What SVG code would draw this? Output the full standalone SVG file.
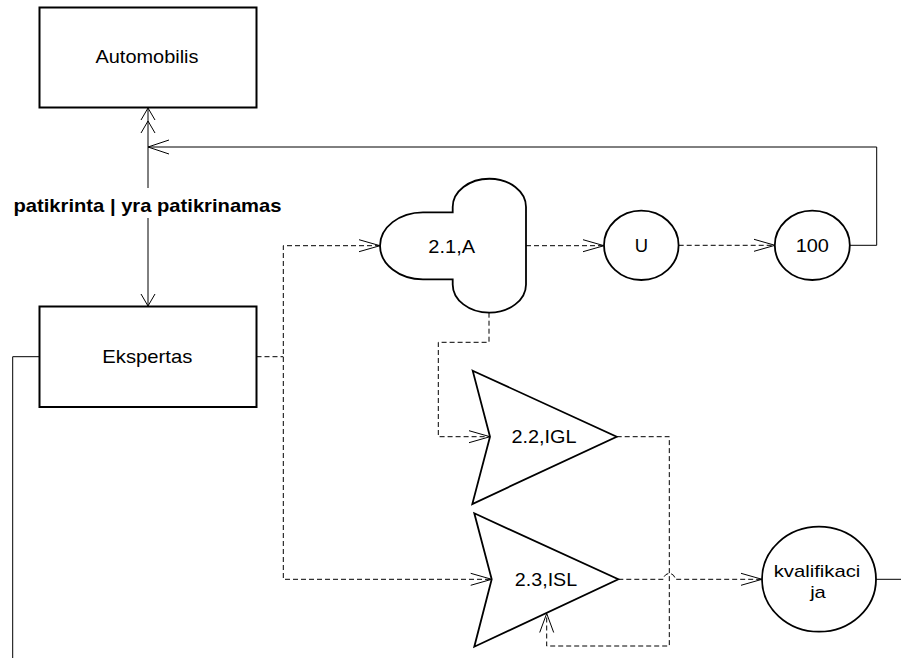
<svg xmlns="http://www.w3.org/2000/svg" width="901" height="658" viewBox="0 0 901 658">
  <style>
    .box { fill: #ffffff; stroke: #000000; stroke-width: 2; }
    .shape { fill: #ffffff; stroke: #000000; stroke-width: 1.8; }
    .line { fill: none; stroke: #000000; stroke-width: 1; }
    .dash { fill: none; stroke: #000000; stroke-width: 1; stroke-dasharray: 5 3; }
    .head { fill: none; stroke: #000000; stroke-width: 1; }
    .lbl { font-family: "Liberation Sans", Arial, sans-serif; font-size: 18.5px; fill: #000000; text-anchor: middle; }
    .bold { font-weight: bold; }
    .small { font-size: 17px; }
  </style>
  <rect width="901" height="658" fill="#ffffff"/>

  <!-- connectors -->
  <g id="connectors">
    <!-- Automobilis <-> Ekspertas -->
    <line class="line" x1="148" y1="108" x2="148" y2="188"/>
    <line class="line" x1="148" y1="218" x2="148" y2="306"/>
    <polyline class="head" points="141,120 148,108 155,120"/>
    <polyline class="head" points="141,133 148,121 155,133"/>
    <polyline class="head" points="141,294 148,306 155,294"/>
    <!-- feedback from 100 -->
    <polyline class="line" points="850,245.3 876.7,245.3 876.7,147 148,147"/>
    <polyline class="head" points="169,140 148,147 169,154"/>
    <!-- Ekspertas dashed fan-out -->
    <line class="dash" x1="256.5" y1="356.7" x2="283.3" y2="356.7"/>
    <polyline class="dash" points="380,245.7 283.3,245.7 283.3,579.3 491.7,579.3"/>
    <polyline class="head" points="359,239.7 380,245.7 359,251.7"/>
    <polyline class="head" points="470.7,573.3 491.7,579.3 470.7,585.3"/>
    <!-- 2.1,A -> U -> 100 -->
    <line class="dash" x1="526" y1="245.7" x2="604" y2="245.7"/>
    <polyline class="head" points="583,239.7 604,245.7 583,251.7"/>
    <line class="dash" x1="678.7" y1="245.3" x2="775" y2="245.3"/>
    <polyline class="head" points="754,239.3 775,245.3 754,251.3"/>
    <!-- 2.1,A -> 2.2,IGL -->
    <polyline class="dash" points="489,312.7 489,342.3 438.3,342.3 438.3,436.7 490,436.7"/>
    <polyline class="head" points="469,430.7 490,436.7 469,442.7"/>
    <!-- 2.2,IGL -> 2.3,ISL loop -->
    <polyline class="dash" points="616.7,436.7 669.3,436.7 669.3,646 546.7,646 546.7,613.5"/>
    <polyline class="head" points="539.7,632.5 546.7,613.5 553.7,632.5"/>
    <!-- 2.3,ISL -> kvalifikacija, hopping over the loop -->
    <path class="dash" d="M 618.3,579.3 L 663.5,579.3 A 5.8,5.8 0 0 1 675.1,579.3 L 762,579.3"/>
    <polyline class="head" points="741,573.3 762,579.3 741,585.3"/>
    <!-- solid exits -->
    <line class="line" x1="876" y1="579.3" x2="901" y2="579.3"/>
    <polyline class="line" points="39.5,356.7 12.7,356.7 12.7,658"/>
  </g>

  <text class="lbl bold" x="147.5" y="211.7" textLength="268" lengthAdjust="spacingAndGlyphs">patikrinta | yra patikrinamas</text>

  <g id="automobilis">
    <rect class="box" x="39.5" y="7.5" width="217" height="100"/>
    <text class="lbl" x="147" y="62.7" textLength="103" lengthAdjust="spacingAndGlyphs">Automobilis</text>
  </g>

  <g id="ekspertas">
    <rect class="box" x="39.5" y="306.5" width="217" height="100.5"/>
    <text class="lbl" x="147.3" y="363.3" textLength="90" lengthAdjust="spacingAndGlyphs">Ekspertas</text>
  </g>

  <g id="node-2-1-a">
    <path class="shape" d="M 423,212.3 L 452.7,212.3 L 452.7,207 A 36.65,28.3 0 0 1 526,207 L 526,284.4 A 36.65,28.3 0 0 1 452.7,284.4 L 452.7,279.3 L 423,279.3 A 43,33.5 0 0 1 423,212.3 Z"/>
    <text class="lbl" x="451.7" y="252.7" textLength="46.7" lengthAdjust="spacingAndGlyphs">2.1,A</text>
  </g>

  <g id="node-u">
    <ellipse class="shape" cx="641.3" cy="245.3" rx="37.3" ry="34.7"/>
    <text class="lbl" x="641.3" y="251.7" textLength="13.3" lengthAdjust="spacingAndGlyphs">U</text>
  </g>

  <g id="node-100">
    <ellipse class="shape" cx="812.3" cy="245.3" rx="37.5" ry="34.7"/>
    <text class="lbl" x="812.3" y="251.7" textLength="33.3" lengthAdjust="spacingAndGlyphs">100</text>
  </g>

  <g id="node-2-2-igl">
    <polygon class="shape" points="472.7,370.7 616.7,436.7 472.3,504 490,436.7"/>
    <text class="lbl" x="544" y="443.3" textLength="65" lengthAdjust="spacingAndGlyphs">2.2,IGL</text>
  </g>

  <g id="node-2-3-isl">
    <polygon class="shape" points="474.3,513.3 618.3,579.3 474.3,646.7 491.7,579.3"/>
    <text class="lbl" x="546" y="585.7" textLength="62.3" lengthAdjust="spacingAndGlyphs">2.3,ISL</text>
  </g>

  <g id="node-kvalifikacija">
    <ellipse class="shape" cx="819" cy="579.2" rx="57" ry="52.5"/>
    <text class="lbl small" x="817" y="576.7" textLength="86.7" lengthAdjust="spacingAndGlyphs">kvalifikaci</text>
    <text class="lbl small" x="818" y="597.5" textLength="15.7" lengthAdjust="spacingAndGlyphs">ja</text>
  </g>
</svg>
